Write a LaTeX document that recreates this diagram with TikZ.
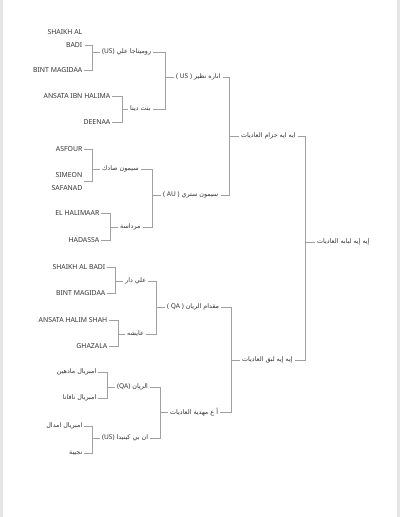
\documentclass[tikz,border=0pt]{standalone}
\usepackage{fontspec}
\setmainfont{Noto Sans}
\newfontfamily\arabicfont[Script=Arabic]{DejaVu Sans}
\newfontfamily\latinfont{Noto Sans}
\TeXXeTstate=1
\newcommand\artxt[1]{{\arabicfont\fontsize{6.4}{7}\selectfont\beginR #1\endR}}
\newcommand\lt[1]{{\latinfont\fontsize{6.6}{7}\selectfont\beginL #1\endL}}
\definecolor{txt}{HTML}{333333}
\definecolor{lnc}{HTML}{A0A0A0}
\definecolor{edge}{HTML}{E6E6E6}
\begin{document}
\begin{tikzpicture}[x=1bp,y=-1bp,
  leaf/.style={anchor=east,inner sep=1.5bp,text=txt,align=right,font=\fontsize{6.9}{13}\selectfont},
  lab/.style={anchor=west,inner sep=2bp,text=txt,font=\fontsize{6.9}{8}\selectfont},
  ln/.style={draw=lnc,line width=0.7bp}]
\useasboundingbox (0,0) rectangle (400,517);
\fill[white] (0,0) rectangle (400,517);
\fill[edge] (0,0) rectangle (3,517);
\fill[edge] (397,0) rectangle (400,517);

% bracket x coordinates
\coordinate (b1) at (92,0);
\coordinate (b2) at (122,0);
\coordinate (b3) at (92,0);
\coordinate (b4) at (110,0);
\coordinate (b5) at (115,0);
\coordinate (b6) at (118,0);
\coordinate (b7) at (107,0);
\coordinate (b8) at (92,0);
\coordinate (c1) at (165,0);
\coordinate (c2) at (152,0);
\coordinate (c3) at (156,0);
\coordinate (c4) at (160,0);
\coordinate (d1) at (229,0);
\coordinate (d2) at (231,0);
\coordinate (e1) at (305,0);

% leaves
\node[leaf] (L1) at (84,38.5) {SHAIKH AL\\BADI};
\coordinate (L1a) at ([yshift=4.3pt]L1.south east);
\node[leaf] (L2) at (84,70) {BINT MAGIDAA};
\node[leaf] (L3) at (112,96) {ANSATA IBN HALIMA};
\node[leaf] (L4) at (112,122) {DEENAA};
\node[leaf] (L5) at (84,149) {ASFOUR};
\node[leaf] (L6) at (84,181.5) {SIMEON\\SAFANAD};
\node[leaf] (L7) at (101,213) {EL HALIMAAR};
\node[leaf] (L8) at (101,240) {HADASSA};
\node[leaf] (L9) at (107,267) {SHAIKH AL BADI};
\node[leaf] (L10) at (107,293) {BINT MAGIDAA};
\node[leaf] (L11) at (109,320) {ANSATA HALIM SHAH};
\node[leaf] (L12) at (109,346) {GHAZALA};
\node[leaf] (L13) at (98,372) {\artxt{امبريال مادهين}};
\node[leaf] (L14) at (98,398) {\artxt{امبريال نافانا}};
\node[leaf] (L15) at (84,426) {\artxt{امبريال امدال}};
\node[leaf] (L16) at (84,453) {\artxt{نجيبة}};

% level 2
\node[lab] (M1) at (100,52) {\artxt{روميناجا علي \lt{(US)}}};
\node[lab] (M2) at (128,109) {\artxt{بنت دينا}};
\node[lab] (M3) at (100,169) {\artxt{سيمون صادك}};
\node[lab] (M4) at (118,227) {\artxt{مرداسة}};
\node[lab] (M5) at (123,281) {\artxt{علي دار}};
\node[lab] (M6) at (125,334) {\artxt{عايشه}};
\node[lab] (M7) at (115,387) {\artxt{الريان \lt{(QA)}}};
\node[lab] (M8) at (100,438) {\artxt{ان بي كينيدا \lt{(US)}}};

% level 3
\node[lab] (N1) at (174,77) {\artxt{اناره نظير \lt{( US )}}};
\node[lab] (N2) at (161,195) {\artxt{سيمون ستري \lt{( AU )}}};
\node[lab] (N3) at (165,307) {\artxt{مقدام الريان \lt{( QA )}}};
\node[lab] (N4) at (168,412) {\artxt{أ ع مهدية العاديات}};

% level 4
\node[lab] (O1) at (239,136) {\artxt{ايه ايه حزام العاديات}};
\node[lab] (O2) at (240,360) {\artxt{إيه إيه لبق العاديات}};

% level 5
\node[lab] (R) at (315,242) {\artxt{إيه إيه لبابه العاديات}};

% connectors level 1 -> 2
\draw[ln] ([xshift=1bp]L1a) -- (L1a -| b1) |- (M1.west);
\draw[ln] (L2.east) -- (L2.east -| b1) |- (M1.west);
\draw[ln] (L3.east) -- (L3.east -| b2) |- (M2.west);
\draw[ln] (L4.east) -- (L4.east -| b2) |- (M2.west);
\draw[ln] (L5.east) -- (L5.east -| b3) |- (M3.west);
\draw[ln] (L6.east) -- (L6.east -| b3) |- (M3.west);
\draw[ln] (L7.east) -- (L7.east -| b4) |- (M4.west);
\draw[ln] (L8.east) -- (L8.east -| b4) |- (M4.west);
\draw[ln] (L9.east) -- (L9.east -| b5) |- (M5.west);
\draw[ln] (L10.east) -- (L10.east -| b5) |- (M5.west);
\draw[ln] (L11.east) -- (L11.east -| b6) |- (M6.west);
\draw[ln] (L12.east) -- (L12.east -| b6) |- (M6.west);
\draw[ln] (L13.east) -- (L13.east -| b7) |- (M7.west);
\draw[ln] (L14.east) -- (L14.east -| b7) |- (M7.west);
\draw[ln] (L15.east) -- (L15.east -| b8) |- (M8.west);
\draw[ln] (L16.east) -- (L16.east -| b8) |- (M8.west);

% level 2 -> 3
\draw[ln] (M1.east) -- (M1.east -| c1) |- (N1.west);
\draw[ln] (M2.east) -- (M2.east -| c1) |- (N1.west);
\draw[ln] (M3.east) -- (M3.east -| c2) |- (N2.west);
\draw[ln] (M4.east) -- (M4.east -| c2) |- (N2.west);
\draw[ln] (M5.east) -- (M5.east -| c3) |- (N3.west);
\draw[ln] (M6.east) -- (M6.east -| c3) |- (N3.west);
\draw[ln] (M7.east) -- (M7.east -| c4) |- (N4.west);
\draw[ln] (M8.east) -- (M8.east -| c4) |- (N4.west);

% level 3 -> 4
\draw[ln] (N1.east) -- (N1.east -| d1) |- (O1.west);
\draw[ln] (N2.east) -- (N2.east -| d1) |- (O1.west);
\draw[ln] (N3.east) -- (N3.east -| d2) |- (O2.west);
\draw[ln] (N4.east) -- (N4.east -| d2) |- (O2.west);

% level 4 -> 5
\draw[ln] (O1.east) -- (O1.east -| e1) |- (R.west);
\draw[ln] (O2.east) -- (O2.east -| e1) |- (R.west);
\end{tikzpicture}
\end{document}
